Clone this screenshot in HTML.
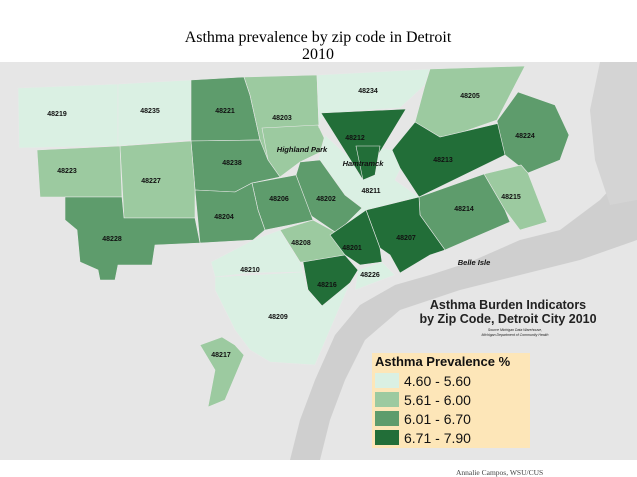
<!DOCTYPE html>
<html><head><meta charset="utf-8">
<style>
body{margin:0;width:637px;height:477px;background:#fff;overflow:hidden;font-family:"Liberation Sans",sans-serif}
svg{display:block}
</style></head>
<body>
<svg id="map" width="637" height="477" viewBox="0 0 637 477" xmlns="http://www.w3.org/2000/svg">
<text x="318" y="42" text-anchor="middle" font-family="Liberation Serif,serif" font-size="16">Asthma prevalence by zip code in Detroit</text>
<text x="318" y="59" text-anchor="middle" font-family="Liberation Serif,serif" font-size="16">2010</text>
<rect x="0" y="62" width="637" height="398" fill="#e6e6e6"/>
<path d="M637,160 L600,200 L560,230 L520,240 L470,262 L430,275 L395,285 L360,305 L335,335 L315,380 L300,420 L290,460 L320,460 L330,420 L345,380 L365,340 L400,310 L460,290 L520,275 L580,260 L637,240 Z" fill="#cfcfcf"/>
<path d="M600,62 L637,62 L637,200 L610,205 L595,160 L590,110 Z" fill="#d4d4d4"/>
<g id="zips"></g>
<g id="labels" font-size="7" font-weight="bold" text-anchor="middle" fill="#111"></g>
<text x="508" y="309" text-anchor="middle" font-size="12.5" font-weight="bold" fill="#222">Asthma Burden Indicators</text>
<text x="508" y="323" text-anchor="middle" font-size="12.5" font-weight="bold" fill="#222">by Zip Code, Detroit City 2010</text>
<text x="515" y="331" text-anchor="middle" font-size="3.5" font-style="italic" fill="#222">Source Michigan Data Warehouse,</text>
<text x="515" y="336" text-anchor="middle" font-size="3.5" font-style="italic" fill="#222">Michigan Department of Community Health</text>
<g>
<rect x="372" y="353" width="158" height="95" fill="#fde6b8"/>
<text x="375" y="366" font-size="13" font-weight="bold" fill="#111">Asthma Prevalence %</text>
<g id="legend-items"></g>
</g>
<text x="456" y="475" font-family="Liberation Serif,serif" font-size="7.5" fill="#444">Annalie Campos, WSU/CUS</text>
</svg>
<script>
const classColors=["#daf0e3","#9ccaa0","#5e9c6c","#226e38"];
const classLabels=["4.60 - 5.60","5.61 - 6.00","6.01 - 6.70","6.71 - 7.90"];
const zipNames=["48219","48235","48221","48203","Highland Park","48234","48205","48211","48212","Hamtramck","48213","48224","48215","48214","48207","48202","48206","48238","48204","48227","48223","48228","48208","48201","48216","48210","48209","48226","48217"];
const zipClass=[0,0,2,1,1,0,1,0,3,3,3,2,1,2,3,2,2,2,2,1,1,2,1,3,3,0,0,0,1];
const zipShapes=[
"18,88 118,84 118,146 19,148",
"118,84 191,80 191,140 118,146",
"191,80 244,77 250,95 260,140 191,141",
"244,77 317,75 319,128 300,140 272,175 260,140 250,95",
"262,128 318,125 329,148 300,162 280,177 268,160",
"317,75 430,69 425,85 400,108 352,111 321,118 319,128",
"430,69 525,66 497,120 440,140 415,122 425,85",
"325,135 352,160 380,148 392,150 405,160 395,180 419,197 366,210 355,225 340,195 318,160",
"321,113 406,109 363,180",
"356,146 380,146 375,175 363,180",
"415,122 440,137 500,123 505,155 419,197 400,168 392,150",
"497,121 518,92 555,105 569,135 560,160 528,173 505,155",
"484,174 521,165 528,173 547,222 520,230 505,210",
"419,197 484,174 505,210 510,222 468,240 445,250 420,215",
"366,210 419,197 420,215 445,250 430,255 400,273 390,255 380,248",
"300,162 320,160 345,195 362,208 345,225 335,232 310,215 296,175",
"252,183 296,175 313,220 290,225 265,230 258,210",
"191,141 260,140 268,160 280,177 252,183 235,192 195,190",
"195,190 235,192 252,183 258,210 265,230 253,240 200,243",
"120,146 191,141 195,190 195,218 124,218",
"37,150 120,146 122,197 40,197",
"65,197 122,197 124,218 195,218 200,243 155,245 152,265 118,265 115,280 100,280 98,270 80,262 77,230 65,220",
"280,230 313,220 335,232 345,255 330,262 300,262",
"330,235 366,210 380,248 382,262 360,265 345,255",
"303,262 345,255 358,270 350,283 335,300 322,306 308,290",
"211,262 253,240 280,230 300,262 303,272 250,273 215,277",
"215,277 303,272 308,290 322,306 350,283 330,330 315,365 270,362 250,350 235,330 215,290",
"358,270 382,262 395,275 355,290",
"200,345 222,337 235,345 244,355 225,400 208,407 215,370"];
const labelPos=[[57,116],[150,113],[225,113],[282,120],[302,152],[368,93],[470,98],[371,193],[355,140],[363,166],[443,162],[525,138],[511,199],[464,211],[406,240],[326,201],[279,201],[232,165],[224,219],[151,183],[67,173],[112,241],[301,245],[352,250],[327,287],[250,272],[278,319],[370,277],[221,357]];
const NS="http://www.w3.org/2000/svg";
const zg=document.getElementById("zips"),lg=document.getElementById("labels");
zipNames.forEach((n,i)=>{
  const p=document.createElementNS(NS,"polygon");
  p.setAttribute("points",zipShapes[i]);
  p.setAttribute("fill",classColors[zipClass[i]]);
  p.setAttribute("stroke","#e8e8e8");p.setAttribute("stroke-width","0.6");
  
  
  zg.appendChild(p);
});
zipNames.forEach((n,i)=>{
  const t=document.createElementNS(NS,"text");
  t.setAttribute("x",labelPos[i][0]);t.setAttribute("y",labelPos[i][1]);
  if(isNaN(+n)){t.setAttribute("font-style","italic");t.setAttribute("font-size","7.5");}
  t.textContent=n;
  
  
  lg.appendChild(t);
});
const bi=document.createElementNS(NS,"text");
bi.setAttribute("x",474);bi.setAttribute("y",265);bi.setAttribute("font-style","italic");bi.setAttribute("font-size","7.5");
bi.textContent="Belle Isle";


lg.appendChild(bi);
const li=document.getElementById("legend-items");
classLabels.forEach((l,i)=>{
  const y=373+i*19;
  const r=document.createElementNS(NS,"rect");
  r.setAttribute("x",375);r.setAttribute("y",y);r.setAttribute("width",24);r.setAttribute("height",15);
  r.setAttribute("fill",classColors[i]);
  
  
  li.appendChild(r);
  const t=document.createElementNS(NS,"text");
  t.setAttribute("x",404);t.setAttribute("y",y+13);t.setAttribute("font-size","14");t.setAttribute("fill","#111");
  t.textContent=l;
  
  
  li.appendChild(t);
});
</script>
</body></html>
